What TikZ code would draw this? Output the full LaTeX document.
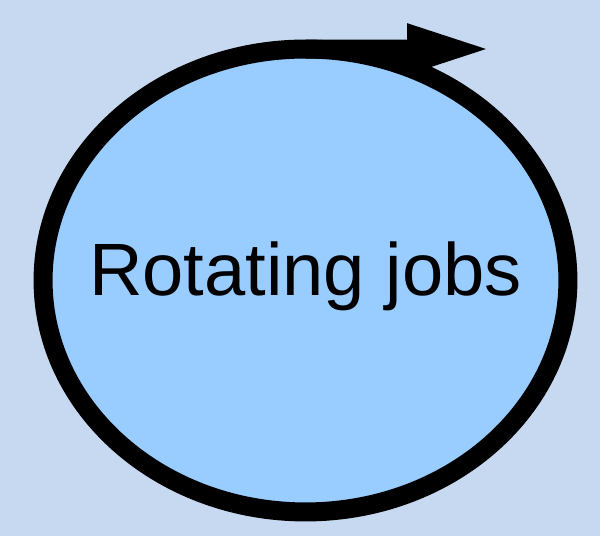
\documentclass[tikz,border=0pt]{standalone}
\usepackage{fontspec}
\setmainfont{Liberation Sans}
\usepackage{tikz}
\usetikzlibrary{arrows.meta,shapes.geometric}
\definecolor{PageBlue}{HTML}{C6D9F1}
\definecolor{SkyBlue}{HTML}{99CCFF}

\begin{document}
\begin{tikzpicture}[
    x=0.02cm, y=-0.02cm,
    ring/.style={ellipse, draw=black, line width=0.38cm, fill=SkyBlue, inner sep=0pt, outer sep=0pt,
                 minimum width=10.5cm, minimum height=9.26cm},
    title/.style={font=\fontsize{42.2}{50}\selectfont, inner sep=0pt, anchor=base},
    arrow/.style={-{Triangle[length=1.72cm 0 0, width=0.9cm 0 0]}, line width=0.38cm, draw=black}
]
\fill[PageBlue] (0,0) rectangle (600,536);
\useasboundingbox (0,0) rectangle (600,536);
\node[ring] (cycle) at (305.5,280.5) {};
\node[title] (jobs) at (305.5,295.5) {Rotating jobs};
\coordinate (tip) at (493,49);

\draw[arrow] (cycle.north) -- (tip);
\end{tikzpicture}
\end{document}
